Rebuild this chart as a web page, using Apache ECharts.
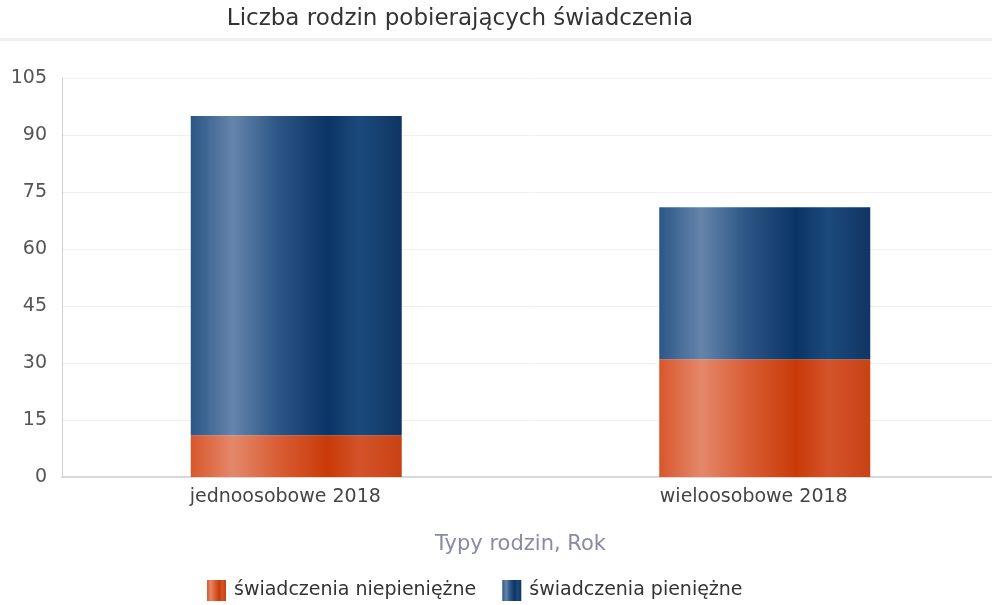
<!DOCTYPE html>
<html><head><meta charset="utf-8">
<script src="https://cdn.jsdelivr.net/npm/echarts@6/dist/echarts.min.js"></script>
<style>html,body{margin:0;padding:0;background:#fff;overflow:hidden;width:992px;height:605px}#c{width:1012px;height:605px}</style>
</head><body><div id="c"></div>
<script>
var titleText = 'Liczba rodzin pobierających świadczenia';
var axisName = 'Typy rodzin, Rok';
var categories = ['jednoosobowe 2018', 'wieloosobowe 2018'];
var seriesNames = ['świadczenia niepieniężne', 'świadczenia pieniężne'];
var niepieniezne = [11, 31];
var pieniezne = [84, 40];
var yTicks = [0, 15, 30, 45, 60, 75, 90, 105];

function grad(stops){
  return new echarts.graphic.LinearGradient(0,0,1,0, stops.map(function(s){return {offset:s[0], color:s[1]};}));
}
var blue = grad([[0,'#2b5686'],[0.2,'#6585ab'],[0.4,'#2f5888'],[0.65,'#0b3466'],[0.8,'#1c4a7c'],[1,'#0f3563']]);
var orange = grad([[0,'#d8562c'],[0.2,'#e4886a'],[0.4,'#da6038'],[0.65,'#c93a08'],[0.8,'#d4532a'],[1,'#c84214']]);

var chart = echarts.init(document.getElementById('c'));
chart.setOption({
  animation:false,
  textStyle:{fontFamily:'DejaVu Sans'},
  title:{text:titleText, left:455, top:3, textAlign:'center',
    textStyle:{fontSize:23, fontWeight:'normal', color:'#333', fontFamily:'DejaVu Sans'}},
  graphic:[{type:'rect', shape:{x:0,y:38,width:1012,height:3}, style:{fill:'#f0f0f0'}, silent:true}],
  legend:{left:202, top:575, icon:'rect', itemWidth:19, itemHeight:21, itemGap:26,
    textStyle:{fontSize:19, color:'#333', fontFamily:'DejaVu Sans', padding:[0,0,0,3]},
    data:[{name:seriesNames[0], itemStyle:{color:orange}},{name:seriesNames[1], itemStyle:{color:blue}}]},
  grid:{left:62, top:78, width:937, height:399, containLabel:false},
  xAxis:{type:'category', data:categories, name:axisName, nameLocation:'middle', nameGap:57,
    nameTextStyle:{fontSize:21, color:'#8a8aa6', fontFamily:'DejaVu Sans', padding:[0,20,0,0]},
    axisLine:{lineStyle:{color:'#d8d8d8', width:2}}, axisTick:{show:false},
    axisLabel:{fontSize:19, color:'#444', margin:11, padding:[0,22,0,0]}},
  yAxis:{type:'value', min:0, max:105, interval:15,
    axisLine:{show:true, lineStyle:{color:'#d0d0d0', width:1}}, axisTick:{show:false},
    axisLabel:{fontSize:19, color:'#555', margin:15},
    splitLine:{lineStyle:{color:'#f0f0f0', width:1}}},
  series:[
    {name:seriesNames[0], type:'bar', stack:'a', data:niepieniezne, barWidth:211, itemStyle:{color:orange}},
    {name:seriesNames[1], type:'bar', stack:'a', data:pieniezne, barWidth:211, itemStyle:{color:blue}}
  ]
});
</script></body></html>
